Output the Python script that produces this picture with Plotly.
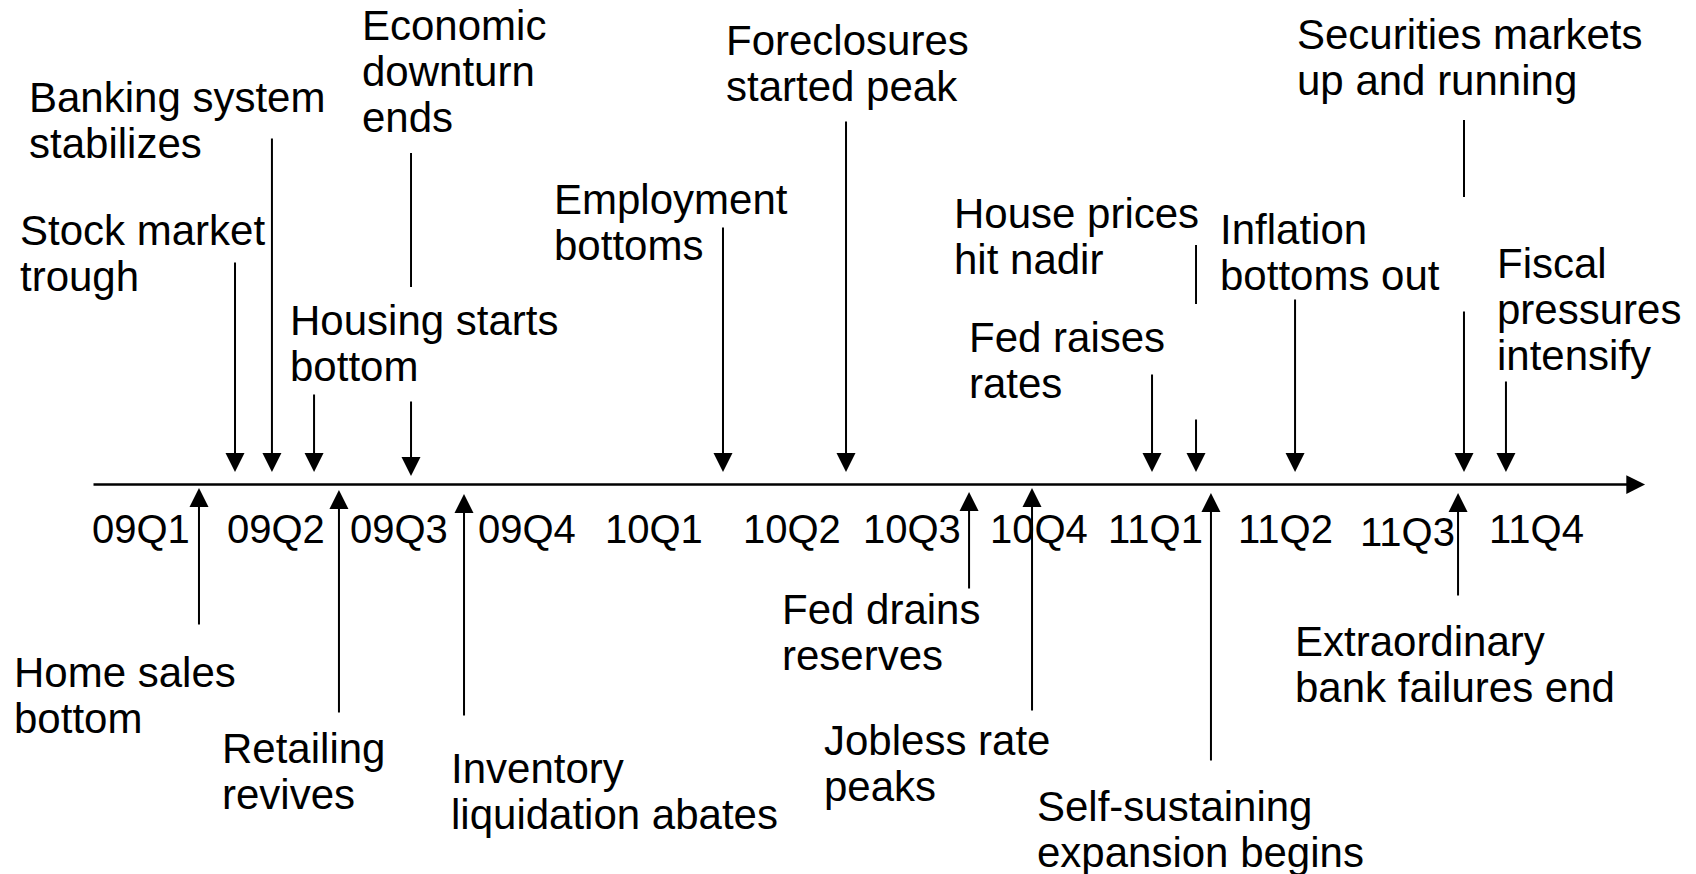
import plotly.graph_objects as go

# page is 1696x874; the browser body keeps an 8px margin, so the figure starts at (8, 8)
PAGE_W, PAGE_H = 1696, 874
OFF = 8
W, H = PAGE_W - OFF, PAGE_H - OFF

# ---- data: quarters on a timeline measured in quarters since start of 2009Q1
quarters = ["09Q1", "09Q2", "09Q3", "09Q4", "10Q1", "10Q2",
            "10Q3", "10Q4", "11Q1", "11Q2", "11Q3", "11Q4"]
quarter_label_pos = [0.388, 1.455, 2.428, 3.440, 4.444, 5.536,
                     6.485, 7.489, 8.414, 9.435, 10.407, 11.427]

events_above = ["Stock market<br>trough", "Banking system<br>stabilizes",
                "Housing starts<br>bottom", "Economic<br>downturn<br>ends",
                "Employment<br>bottoms", "Foreclosures<br>started peak",
                "Fed raises<br>rates", "House prices<br>hit nadir",
                "Inflation<br>bottoms out", "Securities markets<br>up and running",
                "Fiscal<br>pressures<br>intensify"]
events_above_q = [1.131, 1.423, 1.756, 2.523, 4.990, 5.963,
                  8.383, 8.731, 9.514, 10.850, 11.182]

events_below = ["Home sales<br>bottom", "Retailing<br>revives",
                "Inventory<br>liquidation abates", "Fed drains<br>reserves",
                "Jobless rate<br>peaks", "Self-sustaining<br>expansion begins",
                "Extraordinary<br>bank failures end"]
events_below_q = [0.846, 1.953, 2.942, 6.936, 7.434, 8.849, 10.803]

timeline_start_q = 0.0
timeline_end_q = 12.282

# ---- layout (page pixels): label left, first line centre, line end, tip, gap
above_layout = [
    (20, 230, 261, 472, None),
    (29, 97, 137, 472, None),
    (290, 320, 393, 472, None),
    (362, 25, 153, 476, (287, 400)),
    (554, 199, 226, 472, None),
    (726, 40, 120, 472, None),
    (969, 337, 373, 472, None),
    (954, 213, 245, 472, (304, 418)),
    (1220, 229, 298, 472, None),
    (1297, 34, 120, 472, (197, 310)),
    (1497, 263, 380, 472, None),
]
below_layout = [
    (14, 672, 626, 488),
    (222, 748, 714, 490),
    (451, 768, 717, 494),
    (782, 609, 590, 492),
    (824, 740, 712, 488),
    (1037, 806, 762, 493),
    (1295, 641, 597, 493),
]
quarter_label_y = [529] * 10 + [532, 529]

PX0, PXQ = 92.0, 126.45          # page pixel of q=0 and pixels per quarter
x_lo = (OFF - PX0) / PXQ
x_hi = (OFF + W - PX0) / PXQ
AXIS_Y = 484.5
LINE_H = 46
FONT = "Liberation Sans, Arial, Helvetica, sans-serif"

fig = go.Figure()
fig.add_trace(go.Scatter(x=[x_lo, x_hi], y=[100, 100], mode="markers",
                         marker=dict(opacity=0), hoverinfo="skip", showlegend=False))

annotations = []
shapes = []


def arrow(xq, y_tip, y_tail, width=2, size=1.9):
    annotations.append(dict(
        x=xq, y=y_tip, ax=xq, ay=y_tail,
        xref="x", yref="y", axref="x", ayref="y", text="", showarrow=True,
        arrowhead=2, arrowsize=size, arrowwidth=width, arrowcolor="black",
        standoff=0, startstandoff=0))


def label(text, left_px, y_center, size=42):
    for i, line in enumerate(text.split("<br>")):
        annotations.append(dict(
            x=(left_px - OFF) / W, xref="paper", y=y_center + i * LINE_H, yref="y",
            text=line, showarrow=False, xanchor="left", yanchor="middle",
            font=dict(family=FONT, size=size, color="black"),
            borderpad=0, borderwidth=0))


# main timeline
annotations.append(dict(
    x=timeline_end_q, y=AXIS_Y, ax=timeline_start_q, ay=AXIS_Y,
    xref="x", yref="y", axref="x", ayref="y", text="", showarrow=True,
    arrowhead=2, arrowsize=1.5, arrowwidth=2.5, arrowcolor="black",
    standoff=0, startstandoff=0))

for txt, q, (lx, ly, yend, ytip, gap) in zip(events_above, events_above_q, above_layout):
    if gap is None:
        arrow(q, ytip, yend)
    else:
        arrow(q, ytip, gap[1])
        shapes.append(dict(type="line", xref="x", yref="y", x0=q, x1=q,
                           y0=yend, y1=gap[0], line=dict(color="black", width=2)))
    label(txt, lx, ly)

for txt, q, (lx, ly, yend, ytip) in zip(events_below, events_below_q, below_layout):
    arrow(q, ytip, yend)
    label(txt, lx, ly)

for qlab, qpos, qy in zip(quarters, quarter_label_pos, quarter_label_y):
    annotations.append(dict(
        x=qpos, y=qy, xref="x", yref="y", text=qlab, showarrow=False,
        xanchor="center", yanchor="middle",
        font=dict(family=FONT, size=40, color="black")))

fig.update_layout(
    width=W, height=H, margin=dict(l=0, r=0, t=0, b=0),
    paper_bgcolor="white", plot_bgcolor="white",
    xaxis=dict(range=[x_lo, x_hi], visible=False, fixedrange=True),
    yaxis=dict(range=[OFF + H, OFF], visible=False, fixedrange=True),
    annotations=annotations, shapes=shapes, showlegend=False)

fig.write_html("out.html")
